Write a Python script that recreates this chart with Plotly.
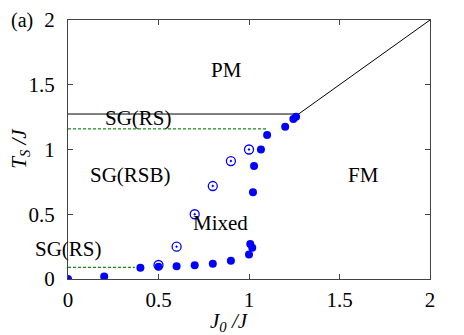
import plotly.graph_objects as go

# filled circles: transition points
filled_x = [0.0, 0.2, 0.4, 0.5, 0.6, 0.7, 0.8, 0.9, 1.0, 1.007, 1.018, 1.022, 1.028, 1.066, 1.10, 1.20, 1.245, 1.26]
filled_y = [0.0, 0.02, 0.087, 0.095, 0.098, 0.106, 0.118, 0.141, 0.19, 0.27, 0.242, 0.67, 0.873, 1.0, 1.112, 1.176, 1.235, 1.253]

# open circles: RSB boundary
open_x = [0.5, 0.6, 0.7, 0.8, 0.9, 1.0]
open_y = [0.108, 0.25, 0.50, 0.718, 0.911, 1.0]

# phase boundary lines
pm_x = [0.0, 1.274, 2.0]
pm_y = [1.274, 1.274, 2.0]
rs_top_x = [0.0, 1.10]
rs_top_y = [1.16, 1.16]
rs_low_x = [0.0, 0.37]
rs_low_y = [0.09, 0.09]

labels = ["PM", "SG(RS)", "SG(RSB)", "Mixed", "FM", "SG(RS)"]
label_x = [0.876, 0.39, 0.345, 0.84, 1.635, 0.0]
label_y = [1.614, 1.24, 0.80, 0.435, 0.80, 0.23]

font = "Liberation Serif"

fig = go.Figure()
fig.add_trace(go.Scatter(x=pm_x, y=pm_y, mode="lines",
                         line=dict(color="black", width=1)))
fig.add_trace(go.Scatter(x=rs_top_x, y=rs_top_y, mode="lines",
                         line=dict(color="#1a8a1a", width=1.2, dash="3px,2px")))
fig.add_trace(go.Scatter(x=rs_low_x, y=rs_low_y, mode="lines",
                         line=dict(color="#1a8a1a", width=1.2, dash="3px,2px")))
fig.add_trace(go.Scatter(x=filled_x, y=filled_y, mode="markers",
                         marker=dict(color="#0000ff", size=8, symbol="circle")))
fig.add_trace(go.Scatter(x=open_x, y=open_y, mode="markers",
                         marker=dict(color="#0000ff", size=9, symbol="circle-open-dot",
                                     line=dict(width=1.3))))

for t, x, y in zip(labels, label_x, label_y):
    fig.add_annotation(x=x, y=y, text=t, showarrow=False,
                       font=dict(family=font, size=21, color="black"))

fig.add_annotation(xref="paper", yref="paper", x=-0.164, y=1.0, text="(a)",
                   showarrow=False, xanchor="left", yanchor="middle",
                   font=dict(family=font, size=20, color="black"))

# axis titles placed by hand
fig.add_annotation(xref="paper", yref="paper", x=0.4475, y=-0.166, text="<i>J<sub>0</sub> /J</i>",
                   showarrow=False, xanchor="center", yanchor="middle",
                   font=dict(family=font, size=21, color="black"))
fig.add_annotation(xref="paper", yref="paper", x=-0.133, y=0.506, text="<i>T<sub>S</sub> /J</i>",
                   showarrow=False, xanchor="center", yanchor="middle", textangle=-90,
                   font=dict(family=font, size=21, color="black"))

axis = dict(range=[0, 2], tickvals=[0, 0.5, 1, 1.5, 2], ticktext=["0", "0.5", "1", "1.5", "2"],
            ticks="inside", ticklen=5, tickcolor="#444", showline=True, linecolor="#444",
            linewidth=1, mirror="ticks", showgrid=False, zeroline=False, automargin=False,
            tickfont=dict(family=font, size=21, color="black"))

# page body adds 8px offset, so the figure is 8px smaller than the window
fig.update_layout(
    width=456, height=327,
    paper_bgcolor="white", plot_bgcolor="white",
    margin=dict(l=60, r=34, t=12, b=56),
    showlegend=False,
    xaxis=dict(axis, ticklabelstandoff=2),
    yaxis=dict(axis, ticklabelstandoff=8),
)

fig.write_html("out.html")
